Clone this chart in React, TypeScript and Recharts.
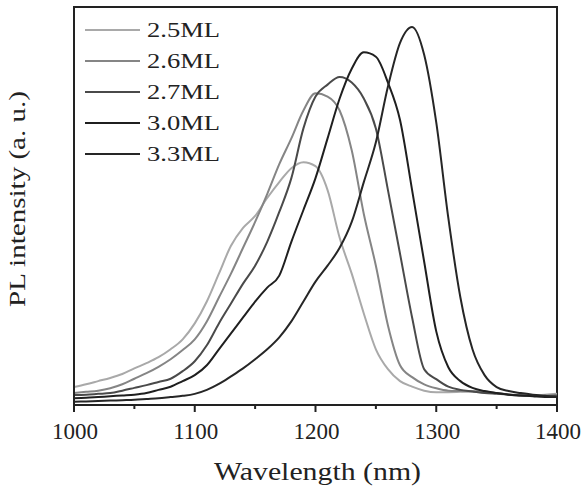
import React from 'react';
import { LineChart, Line, XAxis, YAxis, Legend, ReferenceArea } from 'recharts';

const wavelengths = [
  1000, 1010, 1020, 1030, 1040, 1050, 1060, 1070, 1080, 1090,
  1100, 1110, 1120, 1130, 1140, 1150, 1160, 1170, 1180, 1190,
  1200, 1210, 1220, 1230, 1240, 1250, 1260, 1270, 1280, 1290,
  1300, 1310, 1320, 1330, 1340, 1350, 1360, 1370, 1380, 1390, 1400,
];

const ml25 = [
  4.5, 5.2, 6.0, 6.8, 7.8, 9.2, 10.5, 12, 14, 16.5,
  20.5, 26, 33, 40, 44.5, 47.5, 52, 56, 59.5, 61,
  60, 54, 42, 33, 23, 14, 9, 6, 4.6, 3.6,
  3.2, 3.2, 3.3, 3.5, 3.4, 3.0, 2.7, 2.5, 2.5, 2.6, 2.8,
];

const ml26 = [
  3.0, 3.3, 3.6, 4.2, 5.2, 6.6, 8, 9.6, 11.5, 13.8,
  16.5, 21, 27, 33, 39.5, 46, 53, 60.5, 67, 74,
  78.3, 77.5, 74, 64, 48, 35, 20, 10, 7, 5.2,
  4.2, 3.6, 3.5, 3.4, 3.2, 3.0, 2.6, 2.4, 2.3, 2.4, 2.6,
];

const ml27 = [
  2.5, 2.6, 2.8, 3.0, 3.6, 4.3, 5, 5.8, 6.6, 8.5,
  11, 15, 20.5, 25.5, 30.5, 35, 41, 48.5, 57, 69.5,
  77.5, 80.5, 82.4, 81, 77, 69.5, 54, 38, 22, 9,
  6.5, 4.6, 3.8, 3.4, 3.0, 2.8, 2.6, 2.4, 2.3, 2.2, 2.3,
];

const ml30 = [
  1.7, 1.8, 2.0, 2.2, 2.4, 2.6, 3.0, 3.8, 4.6, 6,
  7.5, 10, 14, 18, 22, 26, 29.5, 32.5, 41, 49,
  57, 67, 77, 84.5, 88.6, 87.5, 81, 71.6, 54, 36,
  18.5, 9.5, 6, 4.3, 3.5, 3, 2.6, 2.4, 2.2, 2.0, 2.0,
];

const ml33 = [
  0.8, 0.9, 1.0, 1.1, 1.2, 1.3, 1.5, 1.7, 2.0, 2.3,
  2.8, 3.8, 5.3, 7.2, 9.2, 11.5, 14, 17, 21, 26,
  31, 35, 39.5, 46, 56, 66, 80, 91, 95, 88,
  71, 47, 27, 14, 7.5, 4.5, 3.5, 3, 2.6, 2.3, 2.0,
];

const seriesNames = ['2.5ML', '2.6ML', '2.7ML', '3.0ML', '3.3ML'];
const seriesValues = [ml25, ml26, ml27, ml30, ml33];
const seriesColors = ['#a9a9a9', '#858585', '#4a4a4a', '#1f1f1f', '#262626'];

const xTicks = [1000, 1050, 1100, 1150, 1200, 1250, 1300, 1350, 1400];
const majorTicks = [1000, 1100, 1200, 1300, 1400];

const data = wavelengths.map((w, i) => {
  const row: Record<string, number> = { w };
  seriesNames.forEach((name, k) => {
    row[name] = seriesValues[k][i];
  });
  return row;
});

const FONT = '"Liberation Serif", "Times New Roman", serif';
const INK = '#222';

const XTick = (props: any) => {
  const { x, y, payload } = props;
  const v = payload.value;
  const major = majorTicks.includes(v);
  return (
    <g>
      <line x1={x} x2={x} y1={y} y2={y + (major ? 7 : 4)} stroke={INK} strokeWidth={2} />
      {major && (
        <text x={x + 1} y={y + 34} textAnchor="middle" fontSize={23} fontFamily={FONT} fill={INK}>
          {v}
        </text>
      )}
    </g>
  );
};

const XTitle = (props: any) => {
  const vb = props.viewBox || { x: 74, y: 405, width: 483, height: 86 };
  return (
    <text
      x={vb.x + vb.width / 2 + 2}
      y={vb.y + 75}
      textAnchor="middle"
      fontSize={25}
      fontFamily={FONT}
      fill={INK}
      textLength={207}
      lengthAdjust="spacingAndGlyphs"
    >
      Wavelength (nm)
    </text>
  );
};

const YTitle = (props: any) => {
  const vb = props.viewBox || { x: 0, y: 7, width: 74, height: 398 };
  const cx = vb.x + 25;
  const cy = vb.y + vb.height / 2 - 7;
  return (
    <text
      x={cx}
      y={cy}
      transform={`rotate(-90, ${cx}, ${cy})`}
      textAnchor="middle"
      fontSize={23}
      fontFamily={FONT}
      fill={INK}
      textLength={216}
      lengthAdjust="spacingAndGlyphs"
    >
      PL intensity (a. u.)
    </text>
  );
};

const LegendContent = () => (
  <svg width={160} height={160} style={{ display: 'block', overflow: 'visible' }}>
    {seriesNames.map((name, i) => {
      const base = 17 + 31 * i;
      return (
        <g key={name}>
          <line x1={0} x2={55} y1={base - 7} y2={base - 7} stroke={seriesColors[i]} strokeWidth={2} />
          <text
            x={62}
            y={base}
            fontSize={20}
            fontFamily={FONT}
            fill={INK}
            textLength={73}
            lengthAdjust="spacingAndGlyphs"
          >
            {name}
          </text>
        </g>
      );
    })}
  </svg>
);

export default function App() {
  return (
    <div style={{ position: 'absolute', left: 0, top: 0, width: 583, height: 491, background: '#fff' }}>
      <LineChart
        width={583}
        height={491}
        data={data}
        margin={{ top: 7, right: 26, left: 0, bottom: 0 }}
        style={{ fontFamily: FONT }}
      >
        <XAxis
          dataKey="w"
          type="number"
          domain={[1000, 1400]}
          ticks={xTicks}
          interval={0}
          tickLine={false}
          tickSize={0}
          tickMargin={0}
          tick={<XTick />}
          axisLine={{ stroke: INK, strokeWidth: 2 }}
          height={86}
          label={XTitle}
        />
        <YAxis
          type="number"
          domain={[0, 100]}
          tick={false}
          tickLine={false}
          axisLine={{ stroke: INK, strokeWidth: 2 }}
          width={74}
          label={YTitle}
        />
        <ReferenceArea
          x1={1000}
          x2={1400}
          y1={0}
          y2={100}
          fill="none"
          stroke={INK}
          strokeWidth={2}
          ifOverflow="visible"
        />
        <Legend
          layout="vertical"
          align="center"
          verticalAlign="middle"
          content={<LegendContent />}
          wrapperStyle={{ left: 85, top: 20, width: 160, height: 160 }}
        />
        {seriesNames.map((name, i) => (
          <Line
            key={name}
            type="monotone"
            dataKey={name}
            stroke={seriesColors[i]}
            strokeWidth={2}
            dot={false}
            activeDot={false}
            isAnimationActive={false}
          />
        ))}
      </LineChart>
    </div>
  );
}
